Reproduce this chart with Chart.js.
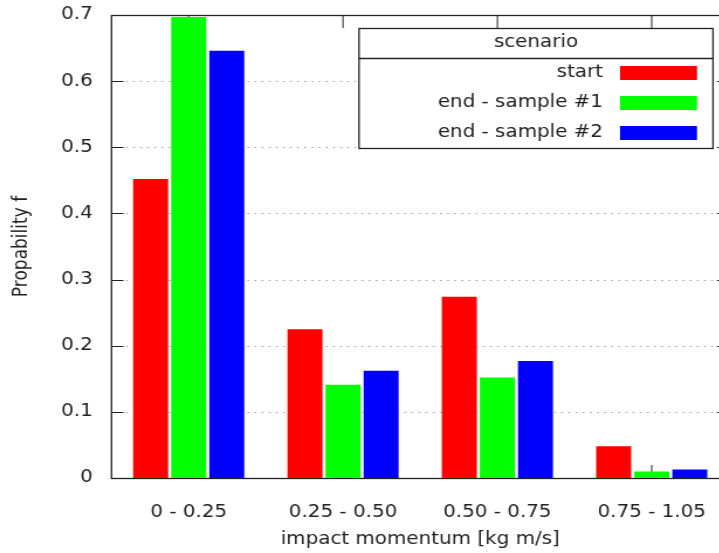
<!DOCTYPE html>
<html>
<head>
<meta charset="utf-8">
<script src="https://cdn.jsdelivr.net/npm/chart.js@4.4.1/dist/chart.umd.min.js"></script>
<style>
  html, body { margin: 0; padding: 0; background: #fff; overflow: hidden; }
  #wrap { width: 640px; height: 553px; transform: scaleX(1.17); transform-origin: 0 0; }
</style>
</head>
<body>
<div id="wrap"><canvas id="chart" width="640" height="553"></canvas></div>
<script>
// the source picture is stretched sideways, so draw narrow and widen with css
const SX = 1.17;

const categories = ["0 - 0.25", "0.25 - 0.50", "0.50 - 0.75", "0.75 - 1.05"];
const seriesNames = ["start", "end - sample #1", "end - sample #2"];
const startValues = [0.452, 0.225, 0.274, 0.048];
const sample1Values = [0.697, 0.141, 0.152, 0.010];
const sample2Values = [0.646, 0.162, 0.177, 0.013];
const yTicks = [0, 0.1, 0.2, 0.3, 0.4, 0.5, 0.6, 0.7];

const FONT = "'DejaVu Sans', sans-serif";

// frame, inward tick marks and dotted grid, drawn under the bars
const framePlugin = {
    id: "frame",
    beforeDatasetsDraw(chart) {
        const ctx = chart.ctx;
        const a = chart.chartArea;
        const y = chart.scales.y;
        const x = chart.scales.x;
        const tickW = 12 / SX;
        const tickH = 13;
        ctx.save();
        ctx.lineWidth = 1;
        ctx.strokeStyle = "#aaa";
        ctx.setLineDash([1.7, 4.4]);
        yTicks.forEach(v => {
            if (v === 0 || v === 0.7) return;
            const py = Math.round(y.getPixelForValue(v)) + 0.5;
            ctx.beginPath();
            ctx.moveTo(a.left + tickW + 2, py);
            ctx.lineTo(a.right - tickW, py);
            ctx.stroke();
        });
        ctx.setLineDash([]);
        ctx.strokeStyle = "#222";
        yTicks.forEach(v => {
            const py = Math.round(y.getPixelForValue(v)) + 0.5;
            ctx.beginPath();
            ctx.moveTo(a.left, py);
            ctx.lineTo(a.left + tickW, py);
            ctx.moveTo(a.right, py);
            ctx.lineTo(a.right - tickW, py);
            ctx.stroke();
        });
        categories.forEach((c, i) => {
            const px = x.getPixelForValue(i);
            ctx.beginPath();
            ctx.moveTo(px, a.bottom);
            ctx.lineTo(px, a.bottom - tickH);
            ctx.moveTo(px, a.top);
            ctx.lineTo(px, a.top + tickH);
            ctx.stroke();
        });
        ctx.lineWidth = 1.3;
        ctx.strokeRect(a.left, Math.round(a.top) + 0.5, a.right - a.left, Math.round(a.bottom) - Math.round(a.top));
        ctx.restore();
    }
};

// boxed key with a title row, like the original
const keyPlugin = {
    id: "key",
    afterDraw(chart) {
        const ctx = chart.ctx;
        const left = 359 / SX, right = 713 / SX;
        const top = 28.5, sep = 58.5, bottom = 148.5;
        ctx.save();
        ctx.fillStyle = "#fff";
        ctx.fillRect(left, top, right - left, bottom - top);
        ctx.strokeStyle = "#222";
        ctx.lineWidth = 1.3;
        ctx.strokeRect(left, top, right - left, bottom - top);
        ctx.beginPath();
        ctx.moveTo(left, sep);
        ctx.lineTo(right, sep);
        ctx.stroke();
        ctx.fillStyle = "#222";
        ctx.font = "17px " + FONT;
        ctx.textBaseline = "middle";
        ctx.textAlign = "center";
        ctx.fillText("scenario", (left + right) / 2, 43);
        ctx.textAlign = "right";
        chart.data.datasets.forEach((ds, i) => {
            const cy = 73 + i * 30;
            ctx.fillStyle = "#222";
            ctx.fillText(ds.label, 603 / SX, cy);
            ctx.fillStyle = ds.backgroundColor;
            ctx.fillRect(620 / SX, cy - 7, 77 / SX, 14);
        });
        ctx.restore();
    }
};

new Chart(document.getElementById("chart"), {
    type: "bar",
    data: {
        labels: categories,
        datasets: [
            { label: seriesNames[0], data: startValues, backgroundColor: "#ff0000" },
            { label: seriesNames[1], data: sample1Values, backgroundColor: "#00ff00" },
            { label: seriesNames[2], data: sample2Values, backgroundColor: "#0000ff" },
        ],
    },
    options: {
        responsive: false,
        animation: false,
        devicePixelRatio: 1,
        layout: { padding: { left: 0, top: 15, right: 17, bottom: 0 } },
        datasets: { bar: { categoryPercentage: 0.74, barPercentage: 0.92, borderWidth: 0 } },
        plugins: { legend: { display: false }, tooltip: { enabled: false } },
        scales: {
            x: {
                grid: { display: false, drawTicks: false },
                border: { display: false },
                ticks: { color: "#222", font: { family: FONT, size: 17 }, padding: 24, maxRotation: 0, autoSkip: false },
                title: { display: true, text: "impact momentum [kg m/s]", color: "#222",
                         font: { family: FONT, size: 17 }, padding: { top: 0, bottom: 3 } },
                afterFit(scale) { scale.height = 75; },
            },
            y: {
                min: 0,
                max: 0.7,
                grid: { display: false, drawTicks: false },
                border: { display: false },
                ticks: {
                    stepSize: 0.1,
                    color: "#222",
                    font: { family: FONT, size: 17 },
                    padding: 16,
                    callback: v => v === 0 ? "0" : v.toFixed(1),
                },
                title: { display: true, text: "Propability f", color: "#222",
                         font: { family: FONT, size: 17 }, padding: { top: 8, bottom: 0 } },
                afterFit(scale) {
                    scale.width = 111.5 / SX;
                    scale.paddingTop = 0;
                    scale.paddingBottom = 0;
                },
            },
        },
    },
    plugins: [framePlugin, keyPlugin],
});
</script>
</body>
</html>
